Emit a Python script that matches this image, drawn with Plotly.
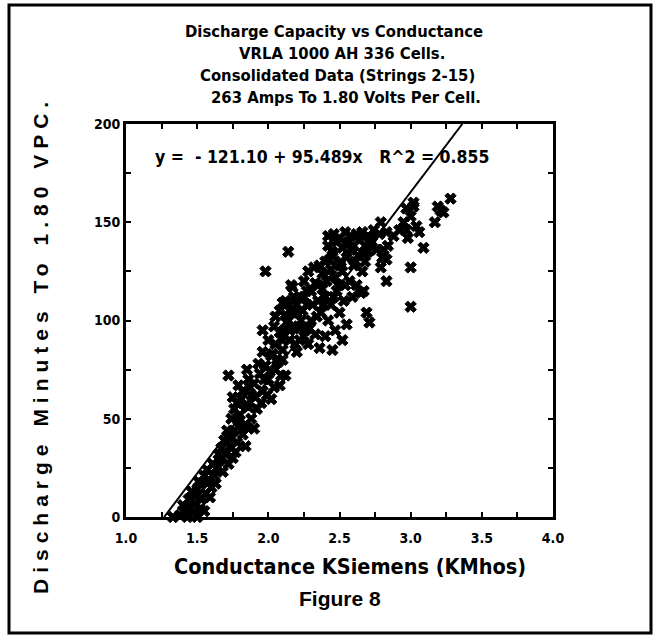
import numpy as np
import plotly.graph_objects as go

# Conductance (KMhos) and discharge minutes for strings 2-15
cond = [
    1.33, 1.38, 1.41, 1.43, 1.45, 1.47, 1.49, 1.50, 1.52, 1.44, 1.48, 1.53, 1.40, 1.55,
    1.50, 1.53, 1.56, 1.58, 1.60, 1.62, 1.55, 1.59, 1.63,
    1.64, 1.66, 1.68, 1.70, 1.72, 1.67, 1.73, 1.75,
    1.74, 1.76, 1.78, 1.80, 1.82, 1.84, 1.79, 1.86, 1.77,
    1.74, 1.76, 1.75, 1.78, 1.80, 1.82, 1.84, 1.86, 1.88, 1.85, 1.90, 1.92, 1.94, 1.96,
    1.98, 2.00, 2.02, 2.05, 2.08, 2.10, 2.12, 1.88, 1.95, 2.04, 1.83, 1.90,
    1.72, 1.96, 1.96,
    2.02, 2.05, 2.08, 2.10, 2.13, 2.15, 2.18, 2.20, 2.23, 2.25, 2.28, 2.04, 2.00,
    2.14, 1.98, 2.17, 2.10,
    2.40, 2.45, 2.50, 2.38, 2.47,
    2.25, 2.28, 2.30, 2.33, 2.35, 2.37, 2.40, 2.42, 2.44, 2.47, 2.50, 2.52, 2.55, 2.30,
    2.27, 2.33, 2.36, 2.40, 2.45, 2.26, 2.32, 2.48, 2.53, 2.22, 2.20,
    2.05, 2.08, 2.12, 2.15, 2.18, 2.20, 2.15, 2.12, 2.22, 2.06, 2.10,
    2.42, 2.46, 2.50, 2.54, 2.58, 2.62,
    2.66, 2.70, 2.74, 2.78, 2.83, 2.88, 2.92,
    2.42, 2.45, 2.48, 2.52, 2.55, 2.58, 2.60, 2.63, 2.66, 2.68, 2.57, 2.62, 2.52, 2.65, 2.70,
    2.73, 2.76, 2.80, 2.84, 2.79,
    2.79, 2.97, 3.02, 3.21, 3.17, 3.28, 3.19, 3.23, 2.98, 3.09, 3.00, 2.83, 3.00, 2.69,
    2.71, 2.59, 2.67, 2.81, 2.83,
    2.95, 3.00, 3.04, 3.06, 2.97, 3.02,
    1.81, 1.87, 1.91, 1.93, 1.97, 2.01, 2.03, 2.07, 1.99, 1.86, 2.09, 1.79,
    2.14, 2.17, 2.21, 2.24, 2.27, 2.31, 2.34, 2.19, 2.29, 2.11, 2.25, 2.35, 2.16,
    2.38, 2.41, 2.44, 2.46, 2.49, 2.51, 2.39, 2.43, 2.36, 2.54,
    2.56, 2.60, 2.64, 2.68, 2.72, 2.61, 2.67,
    1.57, 1.61, 1.65, 1.69, 1.71, 1.46, 1.51,
]
minutes = [
    0, 1, 3, 0, 5, 2, 7, 0, 4, 9, 11, 9, 6, 3,
    14, 17, 12, 19, 15, 21, 21, 10, 17,
    25, 29, 23, 32, 27, 35, 36, 30,
    40, 44, 38, 47, 42, 36, 49, 45, 33,
    50, 55, 61, 58, 52, 64, 57, 70, 62, 75, 68, 55, 73, 64,
    77, 70, 60, 75, 67, 80, 72, 50, 58, 66, 46, 45,
    72, 95, 84,
    82, 88, 94, 85, 99, 90, 96, 84, 100, 92, 88, 97, 90,
    135, 125, 117, 109,
    130, 133, 128, 124, 122,
    120, 125, 115, 119, 110, 104, 112, 100, 108, 95, 104, 90, 98, 100,
    108, 93, 86, 92, 85, 95, 127, 115, 110, 112, 104,
    102, 105, 103, 108, 112, 108, 95, 110, 90, 80, 90,
    143, 144, 142, 145, 143, 144,
    145, 143, 146, 144, 145, 143, 146,
    138, 135, 140, 137, 132, 136, 128, 133, 125, 130, 120, 118, 125, 114, 135,
    140, 136, 132, 138, 127,
    150, 157, 158, 156, 150, 162, 158, 155, 142, 137, 127, 120, 107, 104,
    99, 112, 115, 136, 131,
    150, 153, 148, 145, 146, 160,
    60, 66, 61, 78, 70, 74, 83, 79, 62, 56, 72, 67,
    100, 104, 97, 105, 115, 108, 102, 88, 96, 95, 112, 118, 118,
    116, 120, 126, 112, 118, 130, 108, 131, 128, 118,
    140, 138, 141, 138, 142, 130, 134,
    24, 27, 32, 39, 44, 13, 18,
]

# Least-squares fit reported on the chart
intercept = -121.10
slope = 95.489
r_squared = 0.855

x_ticks = [1.0, 1.5, 2.0, 2.5, 3.0, 3.5, 4.0]
y_ticks = [0, 50, 100, 150, 200]

title_lines = [
    "Discharge Capacity vs Conductance",
    "VRLA 1000 AH 336 Cells.",
    "Consolidated Data (Strings 2-15)",
    "263 Amps To 1.80 Volts Per Cell.",
]

W, H = 657, 639
L, T, R, B = 126, 124, 553, 517


def px(x):
    return (x - L) / (R - L)


def py(y):
    return (B - y) / (B - T)


COND = "DejaVu Sans Condensed, Liberation Sans Narrow, DejaVu Sans"

# fit line clipped to the y range of the axes
x_lo = -intercept / slope
x_hi = (200 - intercept) / slope
fit_x = np.array([x_lo, x_hi])
fit_y = intercept + slope * fit_x

fig = go.Figure()
fig.add_trace(go.Scatter(
    x=cond, y=minutes, mode="markers",
    marker=dict(symbol="x", size=10, color="black",
                line=dict(width=1, color="black")),
    showlegend=False, cliponaxis=False,
))
fig.add_trace(go.Scatter(
    x=fit_x, y=fit_y, mode="lines",
    line=dict(color="black", width=2), showlegend=False,
))

axis_common = dict(
    showgrid=False, zeroline=False, showline=True, linecolor="black",
    linewidth=3, mirror="ticks", ticks="inside", ticklen=5, tickwidth=2,
    tickcolor="black",
    tickfont=dict(family=COND, size=14, color="black", weight="bold"),
)
fig.update_xaxes(
    range=[1.0, 4.0], tickvals=x_ticks, ticktext=[f"{v:.1f}" for v in x_ticks],
    ticklabelstandoff=6,
    minor=dict(dtick=0.25, tick0=1.0, ticks="inside", ticklen=5, tickwidth=2,
               tickcolor="black"),
    **axis_common,
)
fig.update_yaxes(
    range=[0, 200], tickvals=y_ticks, ticktext=[str(v) for v in y_ticks],
    minor=dict(dtick=25, tick0=0, ticks="inside", ticklen=5, tickwidth=2,
               tickcolor="black"),
    **axis_common,
)

annotations = []
# centre x and centre y (page pixels) of each heading line
title_pos = [(334, 32), (342, 53), (337, 75), (346, 97)]
for text, (cx, cy) in zip(title_lines, title_pos):
    annotations.append(dict(
        text=f"<b>{text}</b>", x=px(cx), y=py(cy), xref="paper", yref="paper",
        xanchor="center", yanchor="middle", showarrow=False,
        font=dict(family=COND, size=16.5, color="black"),
    ))

annotations.append(dict(
    text=f"<b>y =  - {abs(intercept):.2f} + {slope:.3f}x   R^2 = {r_squared:.3f}</b>",
    x=px(153), y=py(157), xref="paper", yref="paper",
    xanchor="left", yanchor="middle", showarrow=False,
    font=dict(family=COND, size=17.5, color="black"),
))

annotations.append(dict(
    text="<b>Conductance KSiemens (KMhos)</b>",
    x=px(350), y=py(566), xref="paper", yref="paper",
    xanchor="center", yanchor="middle", showarrow=False,
    font=dict(family=COND, size=21.5, color="black"),
))
annotations.append(dict(
    text="<b>Figure 8</b>",
    x=px(340), y=py(598), xref="paper", yref="paper",
    xanchor="center", yanchor="middle", showarrow=False,
    font=dict(family="Liberation Sans, Arial", size=21, color="black"),
))
annotations.append(dict(
    text='<b><span style="letter-spacing:6px">Discharge Minutes To 1.80 VPC.</span></b>',
    x=px(40), y=py(345), xref="paper", yref="paper",
    xanchor="center", yanchor="middle", showarrow=False, textangle=-90,
    font=dict(family="Liberation Sans, Arial", size=21, color="black"),
))

fig.update_layout(
    width=W, height=H,
    margin=dict(l=L, r=W - R, t=T, b=H - B),
    paper_bgcolor="white", plot_bgcolor="white",
    annotations=annotations,
    shapes=[dict(
        type="rect", xref="paper", yref="paper",
        x0=px(9), x1=px(651), y0=py(633), y1=py(5),
        line=dict(color="black", width=3), fillcolor="rgba(0,0,0,0)",
    )],
)

fig.write_html("out.html")
